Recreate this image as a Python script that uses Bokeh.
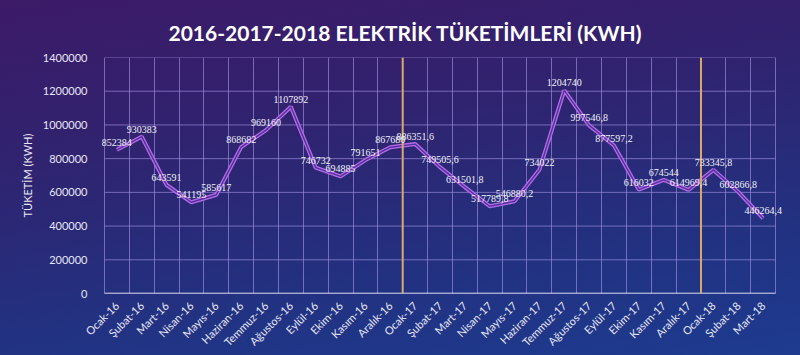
import math
from bokeh.plotting import figure
from bokeh.models import (FactorRange, FixedTicker, Span, ColumnDataSource,
                          GlobalInlineStyleSheet, BasicTickFormatter, LabelSet)
from bokeh.embed import file_html
from bokeh.resources import INLINE

months = ["Ocak-16", "Şubat-16", "Mart-16", "Nisan-16", "Mayıs-16", "Haziran-16",
          "Temmuz-16", "Ağustos-16", "Eylül-16", "Ekim-16", "Kasım-16", "Aralık-16",
          "Ocak-17", "Şubat-17", "Mart-17", "Nisan-17", "Mayıs-17", "Haziran-17",
          "Temmuz-17", "Ağustos-17", "Eylül-17", "Ekim-17", "Kasım-17", "Aralık-17",
          "Ocak-18", "Şubat-18", "Mart-18"]
consumption = [852384, 930383, 643591, 541195, 585617, 868682,
               969160, 1107892, 746732, 694885, 791651, 867680,
               886351.6, 749505.6, 631501.8, 517789.8, 546880.2, 734022,
               1204740, 997546.8, 877597.2, 616032, 674544, 614969.4,
               733345.8, 602866.8, 446264.4]
y_ticks = [0, 200000, 400000, 600000, 800000, 1000000, 1200000, 1400000]
title_text = "2016-2017-2018 ELEKTRİK TÜKETİMLERİ (KWH)"
y_label = "TÜKETİM (KWH)"


def fmt(v):
    if float(v).is_integer():
        return str(int(v))
    return f"{v:.1f}".replace(".", ",")


labels = [fmt(v) for v in consumption]
src = ColumnDataSource(dict(month=months, value=consumption, label=labels))
n = len(months)

FONT = "Lato"
GRID = "#9f90e0"

# a little padding round the categories so that data labels are not clipped
p = figure(x_range=FactorRange(*months, range_padding=0.4,
                               range_padding_units="absolute"),
           y_range=(y_ticks[0], y_ticks[-1]),
           width=800, height=355, output_backend="svg", toolbar_location=None,
           min_border_left=94, min_border_right=15, min_border_top=57,
           min_border_bottom=62)

p.background_fill_alpha = 0
p.border_fill_alpha = 0
p.outline_line_color = None
p.stylesheets = [GlobalInlineStyleSheet(css="""
html, body { background: linear-gradient(172deg, #3c1a68 0%, #30236f 35%, #23307f 68%, #1d3b8f 100%) fixed; }
""")]

# title
p.title.text = title_text
p.title.align = "left"
p.title.offset = 74
p.title.text_font = FONT
p.title.text_font_size = "21px"
p.title.text_font_style = "bold"
p.title.text_color = "#ffffff"
p.title.standoff = 25

# vertical grid at category boundaries
p.xgrid.ticker = FixedTicker(ticks=list(range(0, n + 1)))
p.xgrid.grid_line_color = GRID
p.xgrid.grid_line_alpha = 0.65
# horizontal grid limited to the category span
p.ygrid.visible = False
p.segment(x0=[0] * len(y_ticks), x1=[n] * len(y_ticks), y0=y_ticks, y1=y_ticks,
          line_color=GRID, line_alpha=0.65, line_width=1)
# x axis base line
p.segment(x0=[0], x1=[n], y0=[y_ticks[0]], y1=[y_ticks[0]],
          line_color="#ffffff", line_width=1.5)

# axes
p.yaxis.ticker = FixedTicker(ticks=y_ticks)
p.yaxis.formatter = BasicTickFormatter(use_scientific=False)
p.yaxis.axis_line_color = None
p.xaxis.axis_line_color = None
for ax in (p.xaxis, p.yaxis):
    ax.major_tick_line_color = None
    ax.minor_tick_line_color = None
    ax.major_label_text_font = FONT
    ax.major_label_text_color = "#e8e6f6"
p.yaxis.major_label_text_font_size = "11px"
p.yaxis.major_label_standoff = 1
p.xaxis.major_label_text_font_size = "11px"
p.xaxis.major_label_orientation = math.pi / 4
p.xaxis.major_label_standoff = 4
p.yaxis.axis_label = y_label
p.yaxis.axis_label_text_font = FONT
p.yaxis.axis_label_text_font_size = "11px"
p.yaxis.axis_label_text_font_style = "normal"
p.yaxis.axis_label_text_color = "#e8e6f6"
p.yaxis.axis_label_standoff = 6

# year separators
for i in range(1, n):
    if months[i][-2:] != months[i - 1][-2:]:
        p.add_layout(Span(location=i, dimension="height",
                          line_color="#dca86a", line_width=2))

# line
p.line(x="month", y="value", source=src, line_width=4, line_color="#b46ce8")
p.line(x="month", y="value", source=src, line_width=1.4, line_color="#55309c")

# data labels
p.add_layout(LabelSet(x="month", y="value", text="label", source=src,
                      text_align="center", text_baseline="bottom", y_offset=4,
                      text_font=FONT, text_font_size="10px", text_color="#f2f2f8"))

open("out.html", "w").write(file_html(p, INLINE))
